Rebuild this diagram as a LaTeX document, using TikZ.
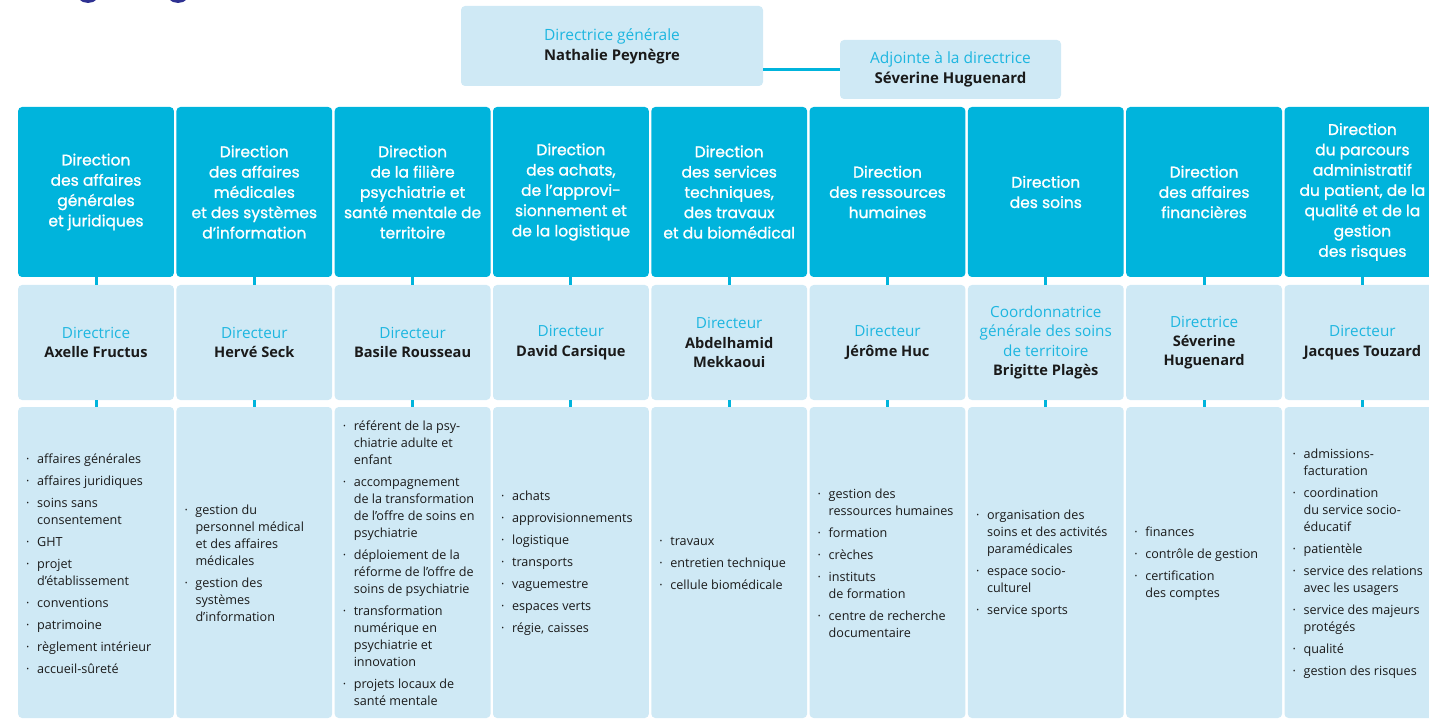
\documentclass[tikz,border=0pt]{standalone}
\usepackage{fontspec}
\setmainfont{Open Sans}
\newfontfamily\hdfont[FakeBold=1.2]{Poppins}
\definecolor{cyanH}{HTML}{00B4DC}
\definecolor{lightB}{HTML}{CFE9F5}
\definecolor{cyanT}{HTML}{1DB6E0}
\definecolor{darkT}{HTML}{1A1A1A}
\definecolor{navy}{HTML}{2E3192}
\newcommand\bu{\makebox[11pt][l]{·}}
\newcommand\co{\hspace*{11pt}}
\newcommand\cy[1]{{\color{cyanT}\fontsize{15.3}{19.3}\selectfont #1}}
\newcommand\nm[1]{{\bfseries\fontsize{14.6}{19.3}\selectfont #1}}
\tikzset{
  hdbox/.style={fill=cyanH, rounded corners=4pt, minimum width=155.8pt, minimum height=170pt,
    text=white, font=\hdfont\fontsize{15.5}{20.3}\selectfont, align=center, inner sep=0pt},
  dirbox/.style={fill=lightB, rounded corners=4pt, minimum width=155.8pt, minimum height=115pt,
    inner sep=0pt, align=center, text=darkT, font=\fontsize{14.6}{19.3}\selectfont},
  listbox/.style={fill=lightB, rounded corners=4pt, minimum width=155.8pt, minimum height=311pt, inner sep=0pt},
  listtext/.style={anchor=west, align=left, inner sep=0pt, text=darkT, font=\fontsize{12.6}{17}\selectfont},
  tick/.style={draw=cyanH, line width=3pt},
}
\begin{document}
\begin{tikzpicture}[x=1pt,y=-1pt]
\useasboundingbox (0,0) rectangle (1429,719);
\clip (0,0) rectangle (1429,719);
\fill[navy] (88,-10) circle (13);
\fill[navy] (178,-10) circle (13);

% top
\node[dirbox, minimum width=302pt, minimum height=80pt, font=\fontsize{14.8}{20}\selectfont] (dg) at (612,46)
  {{\color{cyanT}\fontsize{15.5}{20}\selectfont Directrice générale}\\{\bfseries\fontsize{14.8}{20}\selectfont Nathalie Peynègre}};
\node[dirbox, minimum width=221pt, minimum height=59pt, font=\fontsize{15}{19.5}\selectfont] (adj) at (950.5,69.5)
  {{\color{cyanT}\fontsize{15.5}{19.5}\selectfont Adjointe à la directrice}\\{\bfseries\fontsize{15}{19.5}\selectfont Séverine Huguenard}};
\draw[tick] (adj.west) -- (adj.west -| dg.east);

% headers
\node[hdbox] (h1) at (96,192) {Direction\\des affaires\\générales\\et juridiques};
\node[hdbox] (h2) at (254.3,192) {Direction\\des affaires\\médicales\\et des systèmes\\d’information};
\node[hdbox] (h3) at (412.6,192) {Direction\\de la filière\\psychiatrie et\\santé mentale de\\territoire};
\node[hdbox] (h4) at (570.9,192) {Direction\\des achats,\\de l’approvi-\\sionnement et\\de la logistique};
\node[hdbox] (h5) at (729.2,192) {Direction\\des services\\techniques,\\des travaux\\et du biomédical};
\node[hdbox] (h6) at (887.5,192) {Direction\\des ressources\\humaines};
\node[hdbox] (h7) at (1045.8,192) {Direction\\des soins};
\node[hdbox] (h8) at (1204.1,192) {Direction\\des affaires\\financières};
\node[hdbox] (h9) at (1362.4,192) {Direction\\du parcours\\administratif\\du patient, de la\\qualité et de la\\gestion\\des risques};

% directors
\node[dirbox] (d1) at (96,342.5) {\cy{Directrice}\\\nm{Axelle Fructus}};
\node[dirbox] (d2) at (254.3,342.5) {\cy{Directeur}\\\nm{Hervé Seck}};
\node[dirbox] (d3) at (412.6,342.5) {\cy{Directeur}\\\nm{Basile Rousseau}};
\node[dirbox] (d4) at (570.9,342.5) {\cy{Directeur}\\\nm{David Carsique}};
\node[dirbox] (d5) at (729.2,342.5) {\cy{Directeur}\\\nm{Abdelhamid}\\\nm{Mekkaoui}};
\node[dirbox] (d6) at (887.5,342.5) {\cy{Directeur}\\\nm{Jérôme Huc}};
\node[dirbox] (d7) at (1045.8,342.5) {\cy{Coordonnatrice}\\\cy{générale des soins}\\\cy{de territoire}\\\nm{Brigitte Plagès}};
\node[dirbox] (d8) at (1204.1,342.5) {\cy{Directrice}\\\nm{Séverine}\\\nm{Huguenard}};
\node[dirbox] (d9) at (1362.4,342.5) {\cy{Directeur}\\\nm{Jacques Touzard}};

% list boxes
\foreach \i/\x in {1/96,2/254.3,3/412.6,4/570.9,5/729.2,6/887.5,7/1045.8,8/1204.1,9/1362.4}
  \node[listbox] (l\i) at (\x,562.5) {};

% connectors
\foreach \i in {1,...,9} {
  \draw[tick] (h\i.south) -- (d\i.north);
  \draw[tick] (d\i.south) -- (l\i.north);
}

% list texts
\node[listtext] (t1) at (26,563.5) {\bu affaires générales\\[5pt]\bu affaires juridiques\\[5pt]\bu soins sans\\\co consentement\\[5pt]\bu GHT\\[5pt]\bu projet\\\co d’établissement\\[5pt]\bu conventions\\[5pt]\bu patrimoine\\[5pt]\bu règlement intérieur\\[5pt]\bu accueil-sûreté};
\node[listtext] (t2) at (184.3,563.5) {\bu gestion du\\\co personnel médical\\\co et des affaires\\\co médicales\\[5pt]\bu gestion des\\\co systèmes\\\co d’information};
\node[listtext] (t3) at (342.6,563.5) {\bu référent de la psy-\\\co chiatrie adulte et\\\co enfant\\[5pt]\bu accompagnement\\\co de la transformation\\\co de l’offre de soins en\\\co psychiatrie\\[5pt]\bu déploiement de la\\\co réforme de l’offre de\\\co soins de psychiatrie\\[5pt]\bu transformation\\\co numérique en\\\co psychiatrie et\\\co innovation\\[5pt]\bu projets locaux de\\\co santé mentale};
\node[listtext] (t4) at (500.9,563.5) {\bu achats\\[5pt]\bu approvisionnements\\[5pt]\bu logistique\\[5pt]\bu transports\\[5pt]\bu vaguemestre\\[5pt]\bu espaces verts\\[5pt]\bu régie, caisses};
\node[listtext] (t5) at (659.2,563.5) {\bu travaux\\[5pt]\bu entretien technique\\[5pt]\bu cellule biomédicale};
\node[listtext] (t6) at (817.5,563.5) {\bu gestion des\\\co ressources humaines\\[5pt]\bu formation\\[5pt]\bu crèches\\[5pt]\bu instituts\\\co de formation\\[5pt]\bu centre de recherche\\\co documentaire};
\node[listtext] (t7) at (975.8,563.5) {\bu organisation des\\\co soins et des activités\\\co paramédicales\\[5pt]\bu espace socio-\\\co culturel\\[5pt]\bu service sports};
\node[listtext] (t8) at (1134.1,563.5) {\bu finances\\[5pt]\bu contrôle de gestion\\[5pt]\bu certification\\\co des comptes};
\node[listtext] (t9) at (1292.4,563.5) {\bu admissions-\\\co facturation\\[5pt]\bu coordination\\\co du service socio-\\\co éducatif\\[5pt]\bu patientèle\\[5pt]\bu service des relations\\\co avec les usagers\\[5pt]\bu service des majeurs\\\co protégés\\[5pt]\bu qualité\\[5pt]\bu gestion des risques};
\end{tikzpicture}
\end{document}
